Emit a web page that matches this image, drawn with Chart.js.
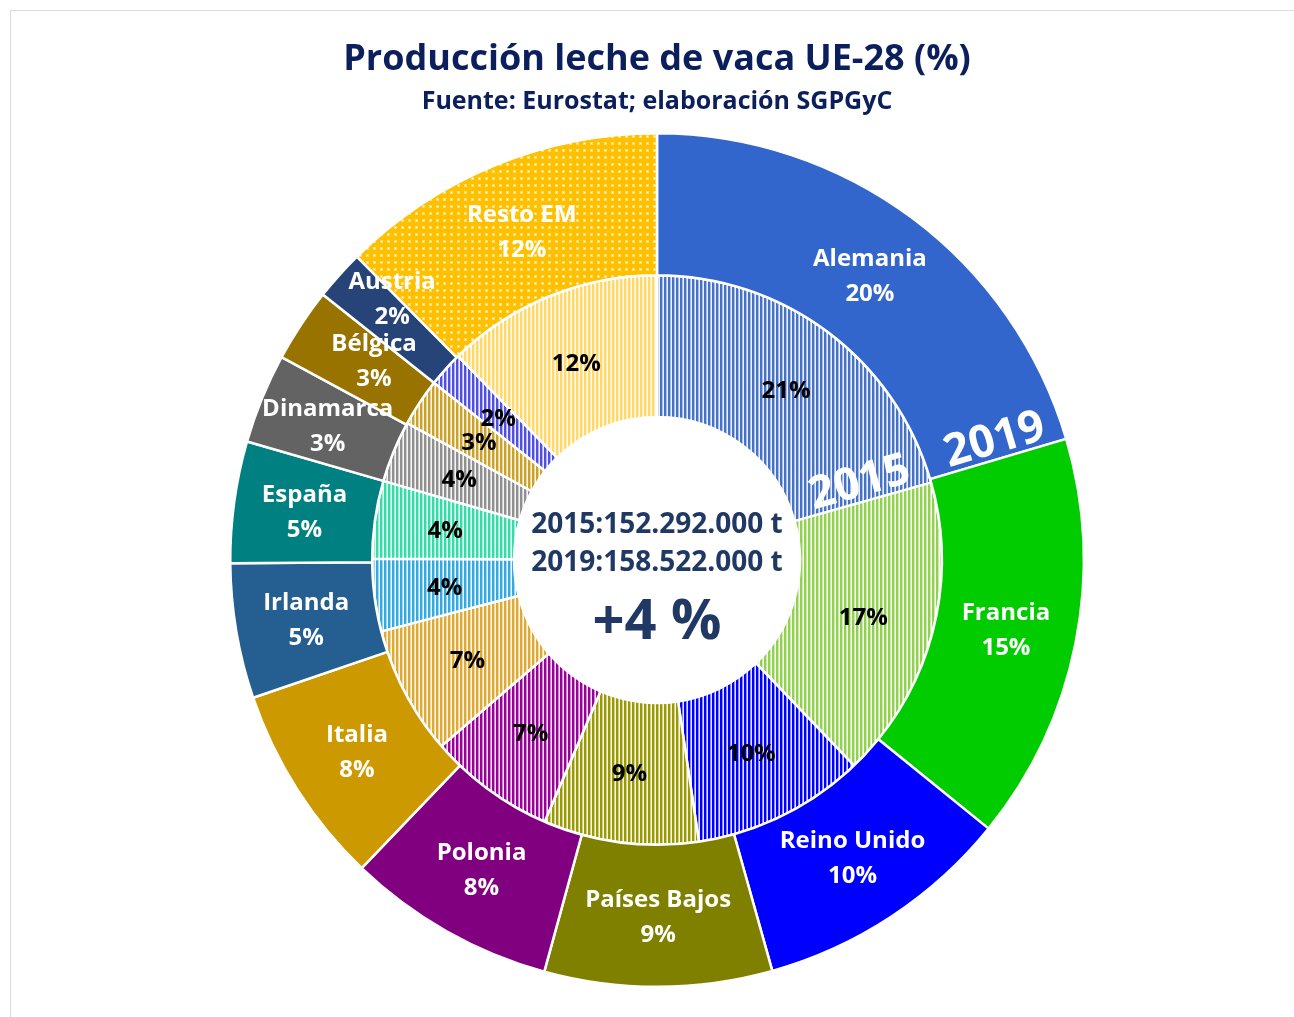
<!DOCTYPE html>
<html>
<head>
<meta charset="utf-8">
<script src="https://cdn.jsdelivr.net/npm/chart.js@4.4.1/dist/chart.umd.min.js"></script>
<style>
  html, body { margin: 0; padding: 0; background: #ffffff; overflow: hidden; }
  #frame { position: absolute; left: 10px; top: 10px; width: 1400px; height: 1100px; border: 1px solid #D9D9D9; box-sizing: border-box; }
  #wrap { position: absolute; left: 0; top: 0; width: 1294px; height: 1017px; }
</style>
</head>
<body>
<div id="frame"></div>
<div id="wrap"><canvas id="c" width="1294" height="1017"></canvas></div>
<script>
// ---- data ----
const countries = ['Alemania', 'Francia', 'Reino Unido', 'Países Bajos', 'Polonia', 'Italia',
                   'Irlanda', 'España', 'Dinamarca', 'Bélgica', 'Austria', 'Resto EM'];
const share2019 = [20.4, 15.4, 9.8, 8.6, 7.9, 7.6, 5.1, 4.6, 3.4, 2.8, 1.9, 12.4];
const share2015 = [20.6, 17.2, 9.8, 8.8, 7.2, 7.3, 4.1, 4.4, 3.5, 2.7, 2.0, 12.3];
const titleText = 'Producción leche de vaca UE-28 (%)';
const subtitleText = 'Fuente: Eurostat; elaboración SGPGyC';
const centerLines = ['2015:152.292.000 t', '2019:158.522.000 t', '+4 %'];
const ringNames = ['2019', '2015'];

// ---- colours / patterns ----
const outerColors = ['#3366CC', '#00CC00', '#0000FF', '#808000', '#800080', '#CC9900',
                     '#255E91', '#008080', '#636363', '#997300', '#264478', '#FFC000'];
const innerColors = ['#4472C4', '#92D050', '#0000FF', '#999900', '#990099', '#DDAA33',
                     '#33AADD', '#33DDAA', '#909090', '#C9A227', '#5050DD', '#FFD966'];

function mix(hex, t) {
  const n = parseInt(hex.slice(1), 16);
  const r = (n >> 16) & 255, g = (n >> 8) & 255, b = n & 255;
  const f = c => Math.round(c + (255 - c) * t);
  return `rgb(${f(r)},${f(g)},${f(b)})`;
}
function stripes(color) {
  const c = document.createElement('canvas');
  c.width = 4; c.height = 4;
  const x = c.getContext('2d');
  x.fillStyle = color; x.fillRect(0, 0, 2, 4);
  x.fillStyle = mix(color, 0.55); x.fillRect(2, 0, 1, 4);
  x.fillStyle = mix(color, 0.9); x.fillRect(3, 0, 1, 4);
  return x.createPattern(c, 'repeat');
}
function dots(color) {
  const c = document.createElement('canvas');
  c.width = 7; c.height = 7;
  const x = c.getContext('2d');
  x.fillStyle = color; x.fillRect(0, 0, 7, 7);
  x.fillStyle = mix(color, 0.45); x.fillRect(2, 2, 3, 3);
  x.fillStyle = '#ffffff'; x.fillRect(3, 3, 1, 1);
  return x.createPattern(c, 'repeat');
}
const outerFill = outerColors.map((c, i) => i === outerColors.length - 1 ? dots(c) : c);
const innerFill = innerColors.map(c => stripes(c));

const labelOffsets = { 'Austria': [0, -24], 'Bélgica': [14, -4] };

const labelPlugin = {
  id: 'labels',
  afterDatasetsDraw(chart) {
    const ctx = chart.ctx;
    ctx.save();
    ctx.textAlign = 'center';
    ctx.textBaseline = 'middle';
    chart.data.datasets.forEach((ds, di) => {
      const meta = chart.getDatasetMeta(di);
      meta.data.forEach((arc, i) => {
        const p = arc.getProps(['x', 'y', 'startAngle', 'endAngle', 'innerRadius', 'outerRadius'], true);
        const a = (p.startAngle + p.endAngle) / 2;
        const r = (p.innerRadius + p.outerRadius) / 2;
        let x = p.x + Math.cos(a) * r, y = p.y + Math.sin(a) * r;
        const pct = Math.round(ds.data[i]) + '%';
        if (di === 0) {
          const off = labelOffsets[countries[i]] || [0, 0];
          x += off[0]; y += off[1];
          ctx.fillStyle = '#ffffff';
          ctx.font = 'bold 24px "Open Sans"';
          ctx.fillText(countries[i], x, y - 16);
          ctx.fillText(pct, x, y + 19);
        } else {
          ctx.fillStyle = '#000000';
          ctx.font = 'bold 24px "Open Sans"';
          ctx.fillText(pct, x, y + 2);
        }
      });
      // ring year label along first boundary
      const a0 = meta.data[0].getProps(['x', 'y', 'endAngle', 'innerRadius', 'outerRadius'], true);
      const rr = (a0.innerRadius + a0.outerRadius) / 2 + 2;
      ctx.save();
      ctx.translate(a0.x, a0.y);
      ctx.rotate(a0.endAngle);
      ctx.fillStyle = '#ffffff';
      ctx.font = 'bold 45px "Open Sans"';
      ctx.textBaseline = 'alphabetic';
      ctx.fillText(ringNames[di], rr, -6);
      ctx.restore();
    });
    // centre text
    const m = chart.getDatasetMeta(0).data[0];
    const cx = m.x, cy = m.y;
    ctx.fillStyle = '#203864';
    ctx.font = 'bold 28px "Open Sans"';
    ctx.fillText(centerLines[0], cx, cy - 35);
    ctx.fillText(centerLines[1], cx, cy + 3);
    ctx.font = 'bold 56px "Open Sans"';
    ctx.fillText(centerLines[2], cx, cy + 63);
    // titles
    ctx.fillStyle = '#0B1F5C';
    ctx.font = 'bold 36px "Open Sans"';
    ctx.fillText(titleText, 657, 60);
    ctx.font = 'bold 25px "Open Sans"';
    ctx.fillText(subtitleText, 657, 102);
    ctx.restore();
  }
};

new Chart(document.getElementById('c'), {
  type: 'doughnut',
  data: {
    labels: countries,
    datasets: [
      { label: ringNames[0], data: share2019, backgroundColor: outerFill, borderColor: '#ffffff', borderWidth: 2.5 },
      { label: ringNames[1], data: share2015, backgroundColor: innerFill, borderColor: '#ffffff', borderWidth: 2.5 }
    ]
  },
  options: {
    responsive: false,
    animation: false,
    cutout: '33.5%',
    layout: { padding: { left: 229, right: 209, top: 132, bottom: 29 } },
    plugins: { legend: { display: false }, tooltip: { enabled: false }, title: { display: false } }
  },
  plugins: [labelPlugin]
});
</script>
</body>
</html>
